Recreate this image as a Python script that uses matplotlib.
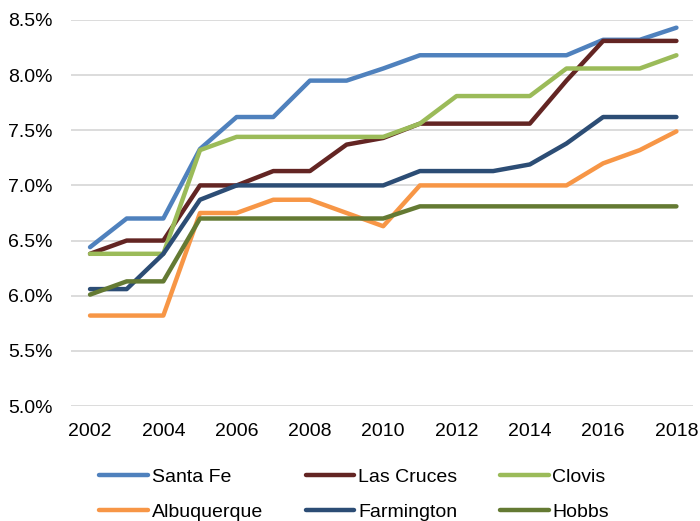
import matplotlib.pyplot as plt
from matplotlib.ticker import FuncFormatter

plt.rcParams['font.family'] = ['Liberation Sans', 'DejaVu Sans']

anos = list(range(2002, 2019))

santaFe = [6.44, 6.70, 6.70, 7.33, 7.62, 7.62, 7.95, 7.95, 8.06, 8.18, 8.18, 8.18, 8.18, 8.18, 8.32, 8.32, 8.43]
lasCruces = [6.38, 6.50, 6.50, 7.00, 7.00, 7.13, 7.13, 7.37, 7.43, 7.56, 7.56, 7.56, 7.56, 7.95, 8.31, 8.31, 8.31]
clovis = [6.38, 6.38, 6.38, 7.32, 7.44, 7.44, 7.44, 7.44, 7.44, 7.56, 7.81, 7.81, 7.81, 8.06, 8.06, 8.06, 8.18]
albuquerque = [5.82, 5.82, 5.82, 6.75, 6.75, 6.87, 6.87, 6.75, 6.63, 7.00, 7.00, 7.00, 7.00, 7.00, 7.20, 7.32, 7.49]
farmington = [6.06, 6.06, 6.38, 6.87, 7.00, 7.00, 7.00, 7.00, 7.00, 7.13, 7.13, 7.13, 7.19, 7.38, 7.62, 7.62, 7.62]
hobbs = [6.01, 6.13, 6.13, 6.70, 6.70, 6.70, 6.70, 6.70, 6.70, 6.81, 6.81, 6.81, 6.81, 6.81, 6.81, 6.81, 6.81]

series = [
    ("Santa Fe", santaFe, "#4F81BD"),
    ("Las Cruces", lasCruces, "#632523"),
    ("Clovis", clovis, "#9BBB59"),
    ("Albuquerque", albuquerque, "#F79646"),
    ("Farmington", farmington, "#2C4D75"),
    ("Hobbs", hobbs, "#647A33"),
]

fig = plt.figure(figsize=(7, 5.21), dpi=100)
ax = fig.add_axes([0.1014, 0.2207, 0.889, 0.741])

linhas = []
for nome, valores, cor in series:
    l, = ax.plot(anos, valores, color=cor, linewidth=3.2, label=nome, solid_capstyle='round')
    linhas.append(l)

ax.set_ylim(5.0, 8.5)
ax.set_xlim(2001.48, 2018.46)
ax.set_yticks([5.0, 5.5, 6.0, 6.5, 7.0, 7.5, 8.0, 8.5])
ax.set_xticks(range(2002, 2019, 2))
ax.yaxis.set_major_formatter(FuncFormatter(lambda v, p: "%.1f%%" % v))
ax.grid(axis='y', color='#D9D9D9', linewidth=1.3)
ax.set_axisbelow(True)
for s in ax.spines.values():
    s.set_visible(False)
ax.tick_params(length=0, labelsize=14, colors='black')
ax.tick_params(axis='x', pad=12)
ax.tick_params(axis='y', pad=13)

# legenda preenche por coluna, entao reordena para ficar por linha
ordem = [0, 3, 1, 4, 2, 5]
leg = fig.legend([linhas[i] for i in ordem], [series[i][0] for i in ordem],
                 loc='lower left', ncol=3, frameon=False, fontsize=14,
                 bbox_to_anchor=(99 / 700, 0.0), borderpad=0, borderaxespad=0,
                 handlelength=2.5, handletextpad=0.2,
                 columnspacing=2.2, labelspacing=0.9)
for linha in leg.get_lines():
    linha.set_linewidth(3.2)

plt.savefig('out.png')
